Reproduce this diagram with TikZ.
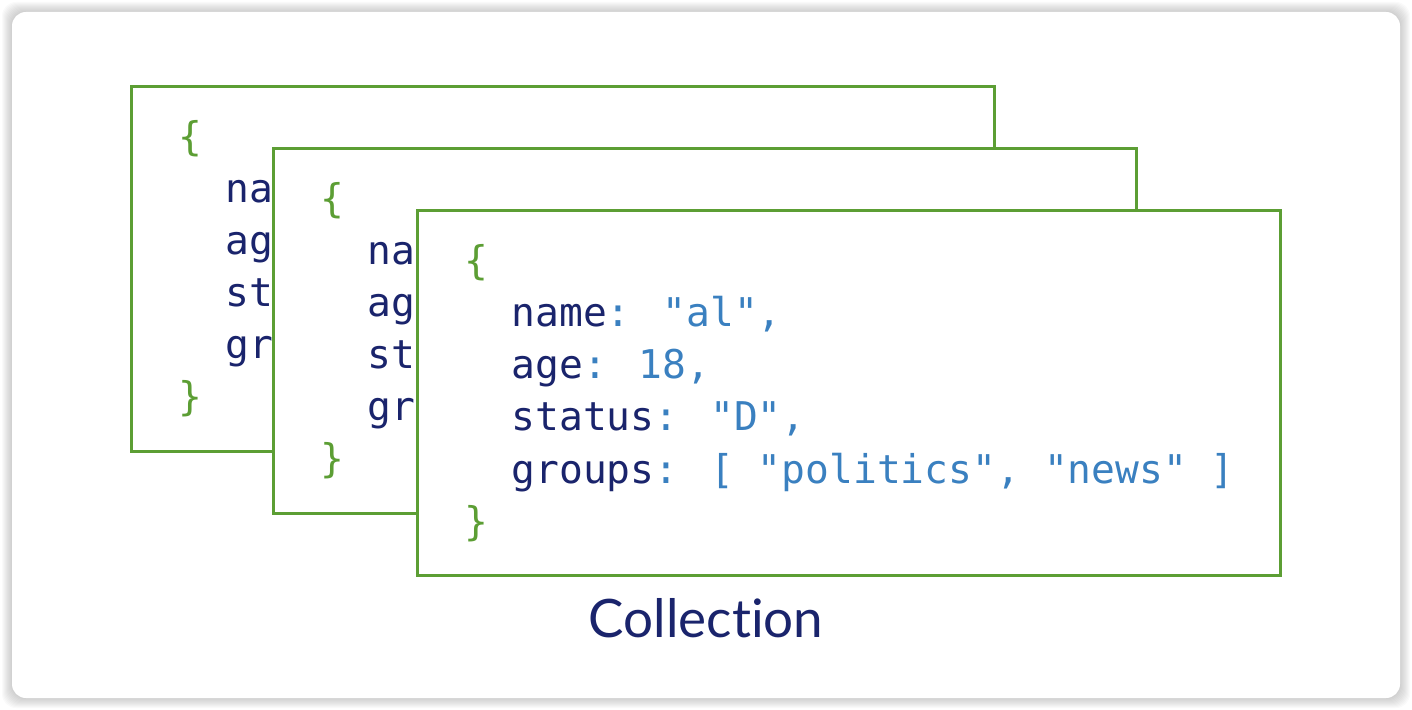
\documentclass[tikz,border=0pt]{standalone}
\usepackage{fontspec}
\usetikzlibrary{calc,positioning}
\setmainfont[Ligatures=NoCommon]{Lato}
\newfontfamily\codefont{DejaVu Sans Mono}
\definecolor{pagegreen}{RGB}{92,158,52}
\definecolor{keynavy}{RGB}{26,36,108}
\definecolor{valblue}{RGB}{58,128,192}
\newcommand\kv[2]{\textcolor{keynavy}{#1}\textcolor{valblue}{: #2}}

\begin{document}
\begin{tikzpicture}[x=0.5pt,y=-0.5pt,
  docpage/.style={draw=pagegreen,line width=1.6pt,fill=white,anchor=north west,
    minimum width=431.4pt,minimum height=182.4pt,inner sep=0pt},
  codeline/.style={anchor=base west,inner sep=0pt,text=keynavy,
    font=\codefont\fontsize{19.8pt}{26pt}\selectfont},
  bracket/.style={codeline,text=pagegreen}]
  \useasboundingbox (0,0) rectangle (1412,710);
  % weicher Schatten um den Rahmen
  \foreach \s in {1,...,10}
    \fill[black,opacity=0.02,rounded corners=7pt] (12-\s,12-\s) rectangle (1400+\s,698+\s);
  \fill[white,rounded corners=7pt] (12,12) rectangle (1400,698);
  % drei Dokumente, von hinten nach vorn
  \foreach \p/\x/\y in {1/130/85,2/272/147,3/416/209} {
    \node[docpage] (page\p) at (\x,\y) {};
    \node[bracket] (open\p) at ($(page\p.north west)+(48.5,66)$) {\{};
    \node[bracket] (close\p) at ($(open\p.base west)+(0,260)$) {\}};
  }
  % verdeckte Zeilen der hinteren Dokumente
  \foreach \p in {1,2} {
    \node[codeline] (name\p) at ($(page\p.north west)+(95.2,118)$) {na};
    \node[codeline] (age\p) at ($(name\p.base west)+(0,52)$) {ag};
    \node[codeline] (status\p) at ($(age\p.base west)+(0,52)$) {st};
    \node[codeline] (groups\p) at ($(status\p.base west)+(0,52)$) {gr};
  }
  % vorderes Dokument
  \node[codeline] (name3) at ($(page3.north west)+(95.2,118)$) {\kv{name}{"al",}};
  \node[codeline] (age3) at ($(name3.base west)+(0,52)$) {\kv{age}{18,}};
  \node[codeline] (status3) at ($(age3.base west)+(0,52)$) {\kv{status}{"D",}};
  \node[codeline] (groups3) at ($(status3.base west)+(0,52)$) {\kv{groups}{[ "politics", "news" ]}};
  \node[anchor=base,text=keynavy,font=\fontsize{26.5pt}{32pt}\selectfont] (title) at (706,637) {Collection};
\end{tikzpicture}
\end{document}
